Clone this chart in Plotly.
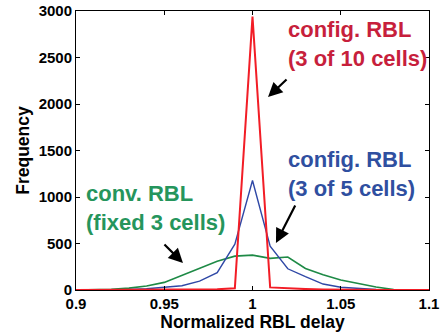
import plotly.graph_objects as go

x = [0.90, 0.91, 0.92, 0.93, 0.94, 0.95, 0.96, 0.97, 0.98, 0.99, 1.00,
     1.01, 1.02, 1.03, 1.04, 1.05, 1.06, 1.07, 1.08, 1.09, 1.10]
conv = [0, 2, 7, 20, 43, 82, 160, 232, 310, 364, 375,
        340, 355, 232, 165, 108, 68, 32, 5, 0, 0]
cfg5 = [0, 0, 2, 5, 14, 29, 46, 96, 186, 493, 1178,
        471, 228, 143, 64, 29, 14, 5, 1, 0, 0]
cfg10 = [0, 0, 0, 0, 0, 2, 3, 5, 8, 18, 2940,
         28, 15, 10, 5, 2, 0, 0, 0, 0, 0]

labels = ["config. RBL<br>(3 of 10 cells)", "config. RBL<br>(3 of 5 cells)",
          "conv. RBL<br>(fixed 3 cells)"]
label_x = [1.019, 1.019, 0.9045]
label_y = [2640, 1242, 887]
label_col = ["#c71f3c", "#2f4fa0", "#25955c"]

arrow_x = [1.0088, 1.0133, 0.9606]
arrow_y = [2075, 505, 290]
arrow_ax = [20, 20, -20]
arrow_ay = [-19, -39, -20]

FONT = "Liberation Sans, Arial, sans-serif"

fig = go.Figure()
fig.add_trace(go.Scatter(x=x, y=conv, mode="lines", line=dict(color="#1e8a46", width=1.6)))
fig.add_trace(go.Scatter(x=x, y=cfg5, mode="lines", line=dict(color="#2f48a6", width=1.4)))
fig.add_trace(go.Scatter(x=x, y=cfg10, mode="lines", line=dict(color="#f21d26", width=2)))

for t, lx, ly, c in zip(labels, label_x, label_y, label_col):
    fig.add_annotation(x=lx, y=ly, text="<b>" + t.replace("<br>", "</b><br><b>") + "</b>",
                       showarrow=False, xanchor="left", yanchor="middle",
                       align="left", font=dict(size=22, color=c, family=FONT))

for hx, hy, axv, ayv in zip(arrow_x, arrow_y, arrow_ax, arrow_ay):
    fig.add_annotation(x=hx, y=hy, ax=axv, ay=ayv, text="", showarrow=True,
                       arrowhead=2, arrowsize=1.3, arrowwidth=2.2, arrowcolor="black")

axis_common = dict(showgrid=False, zeroline=False, showline=True, linecolor="black", linewidth=1,
                   mirror="ticks", ticks="inside", ticklen=4, tickcolor="black", automargin=False,
                   tickfont=dict(size=15, color="black", family=FONT))

xt = [0.9, 0.95, 1.0, 1.05, 1.1]
xt_lbl = ["0.9", "0.95", "1", "1.05", "1.1"]
yt = [0, 500, 1000, 1500, 2000, 2500, 3000]

fig.update_xaxes(range=[0.9, 1.1], tickvals=xt,
                 ticktext=["<b>%s</b>" % s for s in xt_lbl],
                 title=dict(text="<b>Normalized RBL delay</b>", standoff=2,
                            font=dict(size=17.5, color="black", family=FONT)),
                 **axis_common)
fig.update_yaxes(range=[0, 3000], tickvals=yt,
                 ticktext=["<b>%d</b>" % v for v in yt],
                 title=dict(text="<b>Frequency</b>", standoff=4,
                            font=dict(size=17.5, color="black", family=FONT)),
                 **axis_common)

fig.update_layout(width=443, height=335, showlegend=False,
                  margin=dict(l=76, r=14, t=11, b=45),
                  paper_bgcolor="white", plot_bgcolor="white",
                  font=dict(family=FONT, color="black"))

fig.write_html("out.html", config={"displayModeBar": False},
               post_script="document.body.style.margin='0';document.body.style.overflow='hidden';")
